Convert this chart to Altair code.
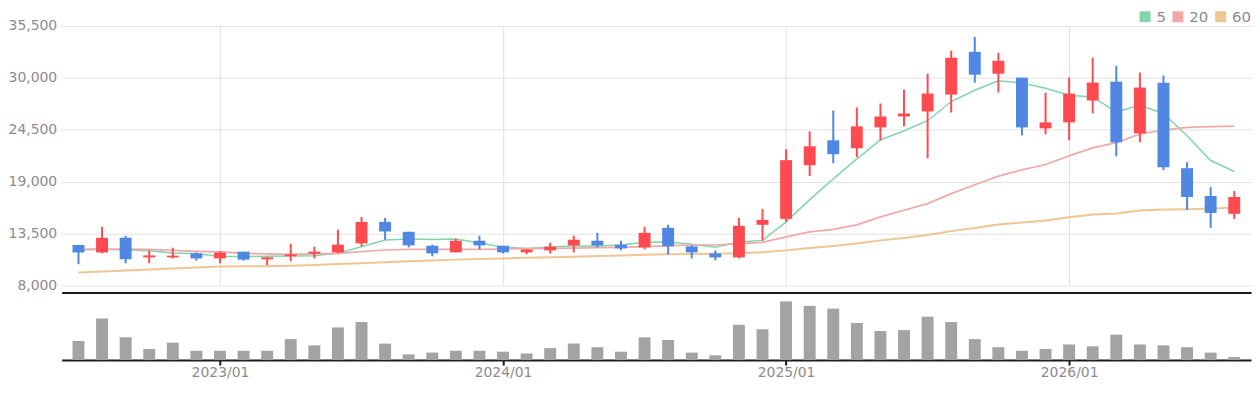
import json
import altair as alt
import pandas as pd

months = [
    "2022/07", "2022/08", "2022/09", "2022/10", "2022/11", "2022/12",
    "2023/01", "2023/02", "2023/03", "2023/04", "2023/05", "2023/06",
    "2023/07", "2023/08", "2023/09", "2023/10", "2023/11", "2023/12",
    "2024/01", "2024/02", "2024/03", "2024/04", "2024/05", "2024/06",
    "2024/07", "2024/08", "2024/09", "2024/10", "2024/11", "2024/12",
    "2025/01", "2025/02", "2025/03", "2025/04", "2025/05", "2025/06",
    "2025/07", "2025/08", "2025/09", "2025/10", "2025/11", "2025/12",
    "2026/01", "2026/02", "2026/03", "2026/04", "2026/05", "2026/06",
    "2026/07", "2026/08",
]

opens = [12290, 11500, 13050, 10980, 10980, 11400, 10870, 11580, 10770, 11090,
         11370, 11510, 12460, 14740, 13690, 12210, 11510, 12740, 12210, 11510,
         11720, 12250, 12740, 12320, 12040, 14110, 12140, 11400, 10980, 14430,
         15060, 20750, 23380, 22540, 24750, 25910, 26440, 28230, 32760, 30440,
         30020, 24650, 25280, 27600, 29600, 24120, 29490, 20430, 17480, 15590]

highs = [12300, 14220, 13270, 11690, 12000, 11510, 11610, 11580, 11000, 12430,
         12110, 13900, 15270, 15160, 13690, 12320, 12950, 13270, 12210, 11820,
         12530, 13270, 13580, 12740, 14220, 14430, 12250, 11720, 15160, 16110,
         22430, 24330, 26540, 26860, 27280, 28760, 30440, 32870, 34340, 32650,
         30020, 28440, 30020, 32130, 31290, 30550, 30230, 21070, 18430, 18010]

lows = [10250, 11400, 10350, 10350, 10870, 10630, 10350, 10630, 10140, 10560,
        10870, 11400, 12140, 12850, 12040, 11090, 11510, 11820, 11400, 11300,
        11400, 11510, 12040, 11720, 11820, 11300, 10870, 10670, 10870, 12740,
        14740, 19590, 20960, 21590, 23380, 24860, 21490, 26330, 29490, 28440,
        23910, 24020, 23380, 26230, 21700, 23170, 20220, 16010, 14110, 15060]

closes = [11500, 13050, 10770, 11190, 11160, 10870, 11480, 10740, 10980, 11300,
          11580, 12320, 14740, 13720, 12250, 11400, 12740, 12250, 11510, 11820,
          12110, 12850, 12250, 11930, 13580, 12140, 11510, 10980, 14320, 14950,
          21280, 22750, 21910, 24860, 25910, 26230, 28330, 32130, 30340, 31810,
          24750, 25280, 28330, 29490, 23170, 28970, 20540, 17380, 15690, 17380]

volumes = [64, 139, 76, 37, 58, 31, 31, 31, 31, 70,
           49, 109, 127, 55, 19, 25, 31, 31, 28, 22,
           40, 55, 43, 28, 76, 67, 25, 16, 118, 103,
           196, 181, 172, 124, 97, 100, 145, 127, 70, 43,
           31, 37, 52, 46, 85, 52, 49, 43, 25, 10]

ma5 = [11760, 11830, 11760, 11690, 11440, 11370, 11090, 11060, 11090, 11130,
       11160, 11410, 12110, 12810, 12920, 12880, 12920, 12530, 12040, 11930,
       12070, 12180, 12180, 12290, 12570, 12600, 12360, 12040, 12600, 12780,
       14740, 17100, 19300, 21420, 23420, 24400, 25460, 27490, 28690, 29700,
       29460, 28900, 28160, 27980, 26400, 27100, 26230, 23870, 21240, 20080]

ma20 = [11830, 11860, 11860, 11830, 11720, 11620, 11550, 11410, 11340, 11300,
        11340, 11410, 11580, 11760, 11830, 11830, 11830, 11830, 11860, 11900,
        11930, 11970, 12000, 12040, 12110, 12210, 12290, 12290, 12430, 12570,
        13160, 13690, 13940, 14430, 15270, 15970, 16680, 17730, 18680, 19590,
        20260, 20820, 21730, 22580, 23140, 24050, 24470, 24750, 24820, 24890]

ma60 = [9370, 9480, 9590, 9700, 9800, 9900, 10000, 10030, 10040, 10100,
        10180, 10270, 10360, 10450, 10560, 10650, 10740, 10800, 10870, 10930,
        10990, 11050, 11120, 11190, 11260, 11300, 11340, 11370, 11410, 11530,
        11720, 11960, 12180, 12460, 12780, 13020, 13340, 13760, 14080, 14460,
        14670, 14880, 15240, 15520, 15620, 15940, 16040, 16080, 16150, 16250]

ma_names = ["5", "20", "60"]
ma_colors = ["#82d5ab", "#f1a8a8", "#f0c594"]
price_ticks = [8000, 13500, 19000, 24500, 30000, 35500]

UP = "#ff4b4f"
DOWN = "#4f87e3"
FONT = "DejaVu Sans"
LABEL_GRAY = "#8c8c8c"

n = len(months)
idx = list(range(n))
candles = pd.DataFrame({
    "i": idx, "month": months, "open": opens, "high": highs,
    "low": lows, "close": closes, "volume": volumes,
})
ma_df = pd.concat([
    pd.DataFrame({"i": idx, "ma": name, "value": vals})
    for name, vals in zip(ma_names, [ma5, ma20, ma60])
], ignore_index=True)

year_ticks = [i for i, m in enumerate(months) if m.endswith("/01")]
label_expr = json.dumps(months) + "[datum.value]"

xscale = alt.Scale(domain=[-0.5, n - 0.5], nice=False, zero=False)
price_x_axis = alt.Axis(values=year_ticks, grid=True, gridColor="#e0e0e0", gridWidth=1,
                        labels=False, ticks=False, domain=True, domainColor="#1a1a1a",
                        domainWidth=2, offset=7, title=None)
yscale = alt.Scale(domain=[8000, 35500], nice=False, zero=False)
price_y_axis = alt.Axis(values=price_ticks, format=",d", grid=True, gridColor="#e3e3e3",
                        domain=False, ticks=False, labelFontSize=14, labelColor=LABEL_GRAY,
                        labelPadding=5, labelFlush=False, labelFont=FONT, title=None)

def px(field="i"):
    return alt.X(f"{field}:Q", scale=xscale, axis=price_x_axis)

def py(field):
    return alt.Y(f"{field}:Q", scale=yscale, axis=price_y_axis)

lines = alt.Chart(ma_df).mark_line(interpolate="linear").encode(
    x=px(), y=py("value"),
    stroke=alt.Stroke("ma:N", scale=alt.Scale(domain=ma_names, range=ma_colors), legend=None),
    strokeWidth=alt.StrokeWidth("ma:N", scale=alt.Scale(domain=ma_names, range=[1.5, 2, 2]), legend=None),
)

legend_layer = alt.Chart(ma_df).mark_square(filled=True, opacity=0).encode(
    x=px(), y=py("value"),
    fill=alt.Fill("ma:N", scale=alt.Scale(domain=ma_names, range=ma_colors),
                  legend=alt.Legend(orient="none", direction="horizontal", legendX=1082, legendY=-17,
                                    title=None, symbolType="square", symbolSize=121,
                                    symbolStrokeWidth=0, symbolOpacity=1, labelFontSize=15,
                                    labelFont=FONT, labelColor=LABEL_GRAY, labelOffset=4,
                                    columnPadding=4, padding=0)),
)

up_cond = alt.condition("datum.close >= datum.open", alt.value(UP), alt.value(DOWN))

wicks = alt.Chart(candles).mark_rule(strokeWidth=2).encode(
    x=px(), y=py("low"), y2="high:Q", color=up_cond,
)

bodies = alt.Chart(candles).mark_bar(size=12).encode(
    x=px(), y=py("open"), y2="close:Q", color=up_cond,
)

price = alt.layer(lines, legend_layer, wicks, bodies).properties(width=1196, height=261)

vol = alt.Chart(candles).mark_bar(size=12, color="#a3a3a3").encode(
    x=alt.X("i:Q", scale=xscale,
            axis=alt.Axis(values=year_ticks, labelExpr=label_expr, grid=False,
                          domainColor="#1a1a1a", domainWidth=2, tickColor="#1a1a1a",
                          tickWidth=2, tickSize=5, labelFontSize=14, labelFont=FONT,
                          labelColor=LABEL_GRAY, labelPadding=1, labelFlush=False, title=None)),
    y=alt.Y("volume:Q", scale=alt.Scale(domain=[0, 226], nice=False), axis=None),
).properties(width=1196, height=68)

chart = alt.vconcat(price, vol, spacing=0).resolve_legend(fill="independent").properties(
    padding={"left": 0, "top": 0, "right": 0, "bottom": 0},
    background="white",
).configure_view(stroke=None)

chart.save("out.html", embed_options={"renderer": "svg", "actions": False})
